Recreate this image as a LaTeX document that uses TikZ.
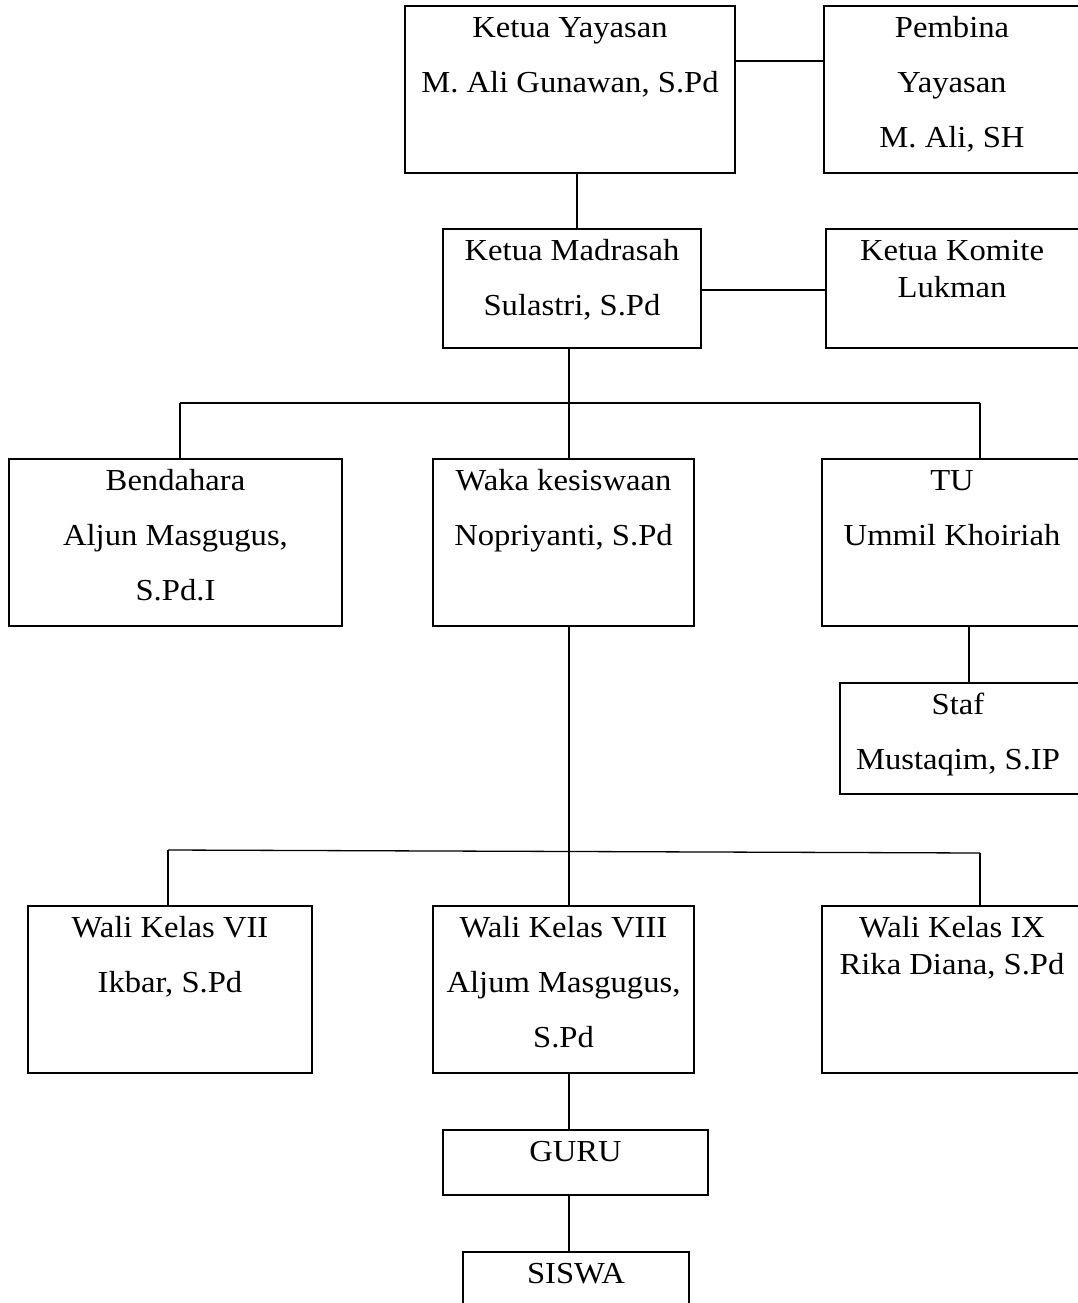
\documentclass[tikz,border=0pt]{standalone}
\usepackage{fontspec}
\setmainfont{Liberation Serif}[FakeStretch=1.07]
\tikzset{
  boxst/.style={draw, line width=2pt, rectangle, inner sep=0pt, outer sep=0pt},
  conn/.style={line width=1.3pt},
  txt/.style={align=center, inner sep=0pt, anchor=north, font=\fontsize{30.5}{55}\selectfont},
  txttight/.style={txt, font=\fontsize{30.5}{37}\selectfont}
}
\newcommand\orgbox[5]{\node[boxst, minimum width={(#4-#2)*1pt}, minimum height={(#5-#3)*1pt}] (#1) at ({(#2+#4)/2},{(#3+#5)/2}) {};}
\newcommand\fl{\rule{0pt}{24pt}}
\begin{document}
\begin{tikzpicture}[x=1pt,y=-1pt]
\useasboundingbox (0,0) rectangle (1078,1303);
\clip (0,0) rectangle (1078,1303);
% boxes
\orgbox{KY}{405}{6}{735}{173}
\orgbox{PB}{824}{6}{1082}{173}
\orgbox{KM}{443}{229}{701}{348}
\orgbox{KK}{826}{229}{1082}{348}
\orgbox{BD}{9}{459}{342}{626}
\orgbox{WK}{433}{459}{694}{626}
\orgbox{TU}{822}{459}{1082}{626}
\orgbox{ST}{840}{683}{1082}{794}
\orgbox{WA}{28}{906}{312}{1073}
\orgbox{WB}{433}{906}{694}{1073}
\orgbox{WC}{822}{906}{1082}{1073}
\orgbox{GU}{443}{1130}{708}{1195}
\orgbox{SI}{463}{1252}{689}{1330}
% texts (first baseline at y+24)
\node[txt] (tKY) at (570,13) {\fl Ketua Yayasan\\M. Ali Gunawan, S.Pd};
\node[txt] (tPB) at (952,13) {\fl Pembina\\Yayasan\\M. Ali, SH};
\node[txt] (tKM) at (572,236) {\fl Ketua Madrasah\\Sulastri, S.Pd};
\node[txttight] (tKK) at (952,236) {\fl Ketua Komite\\Lukman};
\node[txt] (tBD) at (175.5,466) {\fl Bendahara\\Aljun Masgugus,\\S.Pd.I};
\node[txt] (tWK) at (563.5,466) {\fl Waka kesiswaan\\Nopriyanti, S.Pd};
\node[txt] (tTU) at (952,466) {\fl TU\\Ummil Khoiriah};
\node[txt] (tST) at (958,690) {\fl Staf\\Mustaqim, S.IP};
\node[txt] (tWA) at (170,913) {\fl Wali Kelas VII\\Ikbar, S.Pd};
\node[txt] (tWB) at (563.5,913) {\fl Wali Kelas VIII\\Aljum Masgugus,\\S.Pd};
\node[txttight] (tWC) at (952,913) {\fl Wali Kelas IX\\Rika Diana, S.Pd};
\node[txt] (tGU) at (575.5,1137) {\fl GURU};
\node[txt] (tSI) at (576,1259) {\fl SISWA};
% junctions
\coordinate (j1) at (569,403);
\coordinate (j1l) at (180,403);
\coordinate (j1r) at (980,403);
\coordinate (j2) at (569,851.5);
\coordinate (j2l) at (168,850);
\coordinate (j2r) at (980,853);
% connectors
\draw[conn] ([yshift=-55pt]KY.north east) -- ([yshift=-55pt]PB.north west);
\draw[conn] ([xshift=7pt]KY.south) -- ([xshift=5pt]KM.north);
\draw[conn] ([yshift=-61pt]KM.north east) -- ([yshift=-61pt]KK.north west);
\draw[conn] ([xshift=-3pt]KM.south) -- (j1);
\draw[conn] (j1l) -- (j1r);
\draw[conn] (j1l) -- (j1l |- BD.north);
\draw[conn] (j1) -- (j1 |- WK.north);
\draw[conn] (j1r) -- (j1r |- TU.north);
\draw[conn] ([xshift=17pt]TU.south) -- ([xshift=8pt]ST.north);
\draw[conn] ([xshift=5.5pt]WK.south) -- (j2);
\draw[conn] (j2l) -- (j2r);
\draw[conn] (j2l) -- (j2l |- WA.north);
\draw[conn] (j2 |- WB.north) -- (j2);
\draw[conn] (j2r) -- (j2r |- WC.north);
\draw[conn] ([xshift=5.5pt]WB.south) -- ([xshift=-6.5pt]GU.north);
\draw[conn] ([xshift=-6.5pt]GU.south) -- ([xshift=-7pt]SI.north);
\end{tikzpicture}
\end{document}
